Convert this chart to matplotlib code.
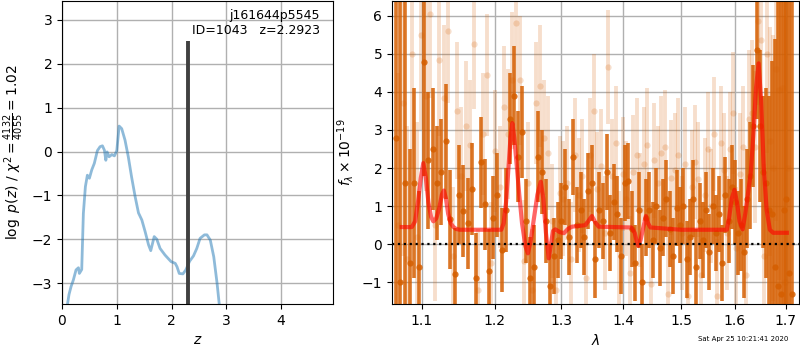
import numpy as np
import matplotlib
matplotlib.use("Agg")
import matplotlib.pyplot as plt
from matplotlib.ticker import FixedLocator, NullLocator, FormatStrFormatter

# --- p(z) curve -------------------------------------------------------------
PZ_Z = [0.10, 0.128, 0.165, 0.207, 0.256, 0.30, 0.317, 0.36, 0.39, 0.427,
        0.463, 0.50, 0.543, 0.59, 0.646, 0.695, 0.738, 0.774, 0.80, 0.823,
        0.86, 0.91, 0.957, 1.0, 1.043, 1.09, 1.15, 1.21, 1.27, 1.335,
        1.396, 1.457, 1.518, 1.58, 1.62, 1.683, 1.73, 1.79, 1.88, 1.99,
        2.067, 2.10, 2.14, 2.207, 2.26, 2.33, 2.40, 2.46, 2.52, 2.60,
        2.646, 2.707, 2.77, 2.83, 2.87]
PZ_LOG = [-3.48, -3.26, -3.08, -2.93, -2.70, -2.65, -2.78, -2.69, -1.41, -0.80,
          -0.54, -0.61, -0.42, -0.27, 0.02, 0.11, 0.13, 0.03, -0.20, -0.01,
          -0.12, -0.07, -0.10, 0.02, 0.58, 0.52, 0.26, -0.12, -0.58, -1.03,
          -1.40, -1.56, -1.83, -2.13, -2.26, -1.94, -2.00, -2.21, -2.36, -2.51,
          -2.55, -2.63, -2.78, -2.79, -2.70, -2.50, -2.38, -2.21, -1.98, -1.90,
          -1.90, -2.02, -2.40, -3.00, -3.48]
Z_BEST = 2.2923
Z_LINE_TOP = 2.52
OBJ_ROOT = "j161644p5545"
OBJ_ID = 1043

# --- spectrum, primary (dark) -------------------------------------------------
WAVE_A = [1.066, 1.072, 1.078, 1.084, 1.090, 1.096, 1.102, 1.108, 1.114, 1.120,
          1.126, 1.132, 1.138, 1.144, 1.150, 1.156, 1.162, 1.168, 1.174, 1.180,
          1.186, 1.192, 1.198, 1.204, 1.210, 1.216, 1.222, 1.228, 1.234, 1.240,
          1.246, 1.252, 1.258, 1.264, 1.270, 1.276, 1.282, 1.288, 1.294, 1.300,
          1.306, 1.312, 1.318, 1.324, 1.330, 1.336, 1.342, 1.348, 1.354, 1.360,
          1.366, 1.372, 1.378, 1.384, 1.390, 1.396, 1.402, 1.408, 1.414, 1.420,
          1.426, 1.432, 1.438, 1.444, 1.450, 1.456, 1.462, 1.468, 1.474, 1.480,
          1.486, 1.492, 1.498, 1.504, 1.510, 1.516, 1.522, 1.528, 1.534, 1.540,
          1.546, 1.552, 1.558, 1.564, 1.570, 1.576, 1.582, 1.588, 1.594, 1.600,
          1.606, 1.612, 1.618, 1.624, 1.630, 1.636, 1.642, 1.648, 1.654, 1.660,
          1.666, 1.672, 1.678, 1.684, 1.690, 1.696, 1.702, 1.708, 1.714]
FLUX_A = [2.8, -1.0, 1.6, -0.5, 1.6, -0.6, 4.78, 2.2, 2.5, 1.6,
          1.9, 2.7, 0.65, -0.78, 1.3, 0.87, 0.55, 1.45, -0.9, 2.15,
          1.05, -0.7, 0.7, 1.3, -0.15, 0.9, 3.3, 3.9, 2.3, 2.95,
          0.6, -0.9, -0.6, 2.3, 1.9, 0.6, -1.1, -0.3, 0.1, 0.6,
          1.5, 0.2, 2.3, 0.5, 0.9, 0.2, 1.4, 1.6, -0.4, 0.9,
          0.6, 1.9, 0.3, 1.1, 0.8, -0.3, 1.6, 1.65, 0.4, -0.5,
          0.9, -1.0, 0.7, 0.9, 0.1, 1.0, -0.1, 0.7, 1.2, 0.4,
          -0.3, 0.95, 0.5, 1.0, -0.4, 0.2, 1.2, -0.6, 0.6, 0.1,
          0.9, -0.2, 1.0, 0.3, 0.8, -0.5, 1.3, 0.6, 1.5, 1.1,
          0.3, 0.5, -0.2, 1.2, 1.8, 3.1, 5.1, 3.1, 1.9, 1.6,
          0.9, 0.8, -0.6, -1.1, -1.3, 0.9, 1.2, -0.75, -1.3]
ERR_A = [9.0, 9.0, 6.0, 3.0, 2.5, 2.0, 3.0, 1.8, 1.6, 1.5,
         1.4, 1.5, 1.3, 1.2, 1.3, 1.2, 1.2, 1.2, 1.2, 1.2,
         1.2, 1.1, 1.1, 1.1, 1.1, 1.1, 1.2, 1.3, 1.2, 1.2,
         1.1, 1.1, 1.1, 1.2, 1.1, 1.1, 1.1, 1.0, 1.0, 1.0,
         1.0, 1.0, 1.0, 1.0, 1.0, 1.0, 1.0, 1.0, 1.0, 1.0,
         1.0, 1.0, 1.0, 1.0, 1.0, 1.0, 1.0, 1.0, 1.0, 1.0,
         1.0, 1.0, 1.0, 1.0, 1.0, 1.0, 1.0, 1.0, 1.0, 1.0,
         1.0, 1.0, 1.0, 1.0, 1.0, 1.0, 1.0, 1.0, 1.0, 1.0,
         1.0, 1.0, 1.0, 1.0, 1.0, 1.0, 1.0, 1.1, 1.1, 1.1,
         1.1, 1.2, 1.2, 1.3, 1.4, 1.6, 1.8, 2.0, 2.0, 2.5,
         3.0, 4.0, 6.0, 8.0, 8.0, 9.0, 9.0, 9.0, 9.0]

# --- spectrum, second orient (light) -----------------------------------------
WAVE_B = [1.069, 1.075, 1.081, 1.087, 1.093, 1.099, 1.105, 1.111, 1.117, 1.123,
          1.129, 1.135, 1.141, 1.147, 1.153, 1.159, 1.165, 1.171, 1.177, 1.183,
          1.189, 1.195, 1.201, 1.207, 1.213, 1.219, 1.225, 1.231, 1.237, 1.243,
          1.249, 1.255, 1.261, 1.267, 1.273, 1.279, 1.285, 1.291, 1.297, 1.303,
          1.309, 1.315, 1.321, 1.327, 1.333, 1.339, 1.345, 1.351, 1.357, 1.363,
          1.369, 1.375, 1.381, 1.387, 1.393, 1.399, 1.405, 1.411, 1.417, 1.423,
          1.429, 1.435, 1.441, 1.447, 1.453, 1.459, 1.465, 1.471, 1.477, 1.483,
          1.489, 1.495, 1.501, 1.507, 1.513, 1.519, 1.525, 1.531, 1.537, 1.543,
          1.549, 1.555, 1.561, 1.567, 1.573, 1.579, 1.585, 1.591, 1.597, 1.603,
          1.609, 1.615, 1.621, 1.627, 1.633, 1.639, 1.645, 1.651, 1.657, 1.663,
          1.669, 1.675, 1.681, 1.687, 1.693, 1.699, 1.705]
FLUX_B = [0.5, 3.7, -0.4, 5.0, 0.2, 5.5, 3.9, 6.05, 0.5, 4.85,
          3.85, 5.6, -0.3, 3.5, 1.8, 3.1, 2.6, 5.25, -1.2, 2.9,
          4.45, -0.5, 2.45, 1.5, 3.6, 2.9, 4.3, 5.8, 4.3, -0.45,
          1.6, -1.2, 3.7, 4.15, 2.8, 2.4, 0.6, -1.2, 1.35, 1.2,
          1.6, -0.4, 2.35, 1.3, 1.8, -0.9, 2.35, 3.5, 1.45, 2.05,
          0.3, 4.65, 1.8, 2.65, -0.1, 1.85, 1.2, -0.75, 1.9, 2.35,
          0.9, 2.1, 2.6, -1.05, 2.2, 1.6, 2.4, 2.55, -1.3, 1.75,
          1.95, 2.35, 0.3, 2.1, -1.35, 1.5, 2.15, 1.7, -0.8, 1.3,
          2.5, 1.0, 2.9, -1.35, 2.65, 1.95, 0.3, 2.5, 3.45, -0.1,
          1.85, 2.55, -0.8, 3.3, 3.45, 2.55, 5.85, 5.35, -0.3, 5.0,
          2.7, 2.0, 4.6, 4.05, 4.1, -1.0, 2.0]
ERR_B = [4.0, 4.0, 3.5, 3.0, 3.0, 2.5, 2.5, 2.2, 2.0, 2.0,
         1.9, 1.9, 1.8, 1.8, 1.8, 1.7, 1.7, 1.7, 1.6, 1.6,
         1.6, 1.6, 1.6, 1.6, 1.6, 1.7, 1.8, 1.8, 1.7, 1.6,
         1.6, 1.6, 1.6, 1.6, 1.5, 1.5, 1.5, 1.5, 1.5, 1.5,
         1.5, 1.5, 1.5, 1.5, 1.5, 1.5, 1.5, 1.5, 1.5, 1.5,
         1.5, 1.5, 1.5, 1.5, 1.5, 1.5, 1.5, 1.5, 1.5, 1.5,
         1.5, 1.5, 1.5, 1.5, 1.5, 1.5, 1.5, 1.5, 1.5, 1.5,
         1.5, 1.5, 1.5, 1.5, 1.5, 1.5, 1.5, 1.5, 1.5, 1.5,
         1.5, 1.5, 1.5, 1.5, 1.5, 1.5, 1.5, 1.5, 1.6, 1.6,
         1.6, 1.6, 1.7, 1.8, 1.9, 2.0, 2.2, 2.3, 2.4, 2.6,
         3.0, 3.5, 4.0, 5.0, 6.0, 7.0, 8.0]

# --- best-fit model ----------------------------------------------------------
MODEL_WAVE = [1.0736, 1.0866, 1.0910, 1.0950, 1.0985, 1.1017, 1.1050, 1.1085,
              1.1120, 1.1150, 1.1190, 1.1230, 1.1265, 1.1292, 1.1320, 1.1350,
              1.1385, 1.1418, 1.1460, 1.1509, 1.2096, 1.2130, 1.2165, 1.2200,
              1.2230, 1.2257, 1.2285, 1.2320, 1.2359, 1.2400, 1.2450, 1.2488,
              1.2530, 1.2580, 1.2630, 1.2682, 1.2720, 1.2760, 1.2803, 1.2840,
              1.2870, 1.2905, 1.2970, 1.3038, 1.3100, 1.3163, 1.3376, 1.3430,
              1.3483, 1.3535, 1.3592, 1.4133, 1.4191, 1.4225, 1.4250, 1.4290,
              1.4340, 1.4382, 1.4420, 1.4460, 1.5000, 1.5847, 1.5890, 1.5940,
              1.5992, 1.6040, 1.6090, 1.6149, 1.6200, 1.6250, 1.6306, 1.6360,
              1.6410, 1.6461, 1.6510, 1.6562, 1.6620, 1.6684, 1.6750, 1.7027]
MODEL_FLUX = [0.45, 0.45, 0.60, 1.15, 1.75, 2.13, 1.75, 1.10,
              0.72, 0.60, 0.68, 0.95, 1.30, 1.41, 1.20, 0.80,
              0.55, 0.46, 0.40, 0.38, 0.38, 0.55, 1.10, 2.00,
              2.80, 3.18, 2.80, 2.10, 1.30, 0.55, -0.05, -0.24,
              0.10, 0.70, 1.30, 1.64, 1.20, 0.30, -0.37, 0.05,
              0.35, 0.39, 0.32, 0.29, 0.40, 0.46, 0.50, 0.62,
              0.74, 0.58, 0.46, 0.44, 0.30, 0.08, -0.04, 0.10,
              0.45, 0.74, 0.55, 0.44, 0.38, 0.38, 0.70, 1.20,
              1.43, 1.10, 0.60, 0.39, 0.80, 1.30, 1.86, 2.90,
              4.10, 4.75, 3.80, 2.04, 0.90, 0.38, 0.30, 0.30]

TIMESTAMP = "Sat Apr 25 10:21:41 2020"
G141_COLOR = (0.8352941176470589, 0.3686274509803922, 0.0)


def _plot_pz(ax):
    ax.plot(PZ_Z, PZ_LOG, color="tab:blue", alpha=0.5, lw=2)
    ax.vlines(Z_BEST, -3.48, Z_LINE_TOP, color="0.25", lw=2.8)
    ax.text(0.95, 0.975, f"{OBJ_ROOT}\nID={OBJ_ID}   z={Z_BEST:.4f}",
            transform=ax.transAxes, ha="right", va="top", fontsize=9,
            linespacing=1.2)
    ax.set_xlim(0, 4.95)
    ax.set_ylim(-3.48, 3.43)
    ax.set_xticks([0, 1, 2, 3, 4])
    ax.set_yticks([-3, -2, -1, 0, 1, 2, 3])
    ax.set_xlabel(r"$z$")
    ax.set_ylabel(r"$\log\ p(z)$ / $\chi^2=\frac{4132}{4055}=1.02$")
    ax.grid(True, color="#b0b0b0", lw=1)
    ax.set_axisbelow(True)


def _plot_spec(ax):
    ax.errorbar(WAVE_B, FLUX_B, yerr=ERR_B, fmt="o", color=G141_COLOR,
                alpha=0.2, ms=4.5, elinewidth=2.8, mew=0)
    ax.errorbar(WAVE_A, FLUX_A, yerr=ERR_A, fmt="o", color=G141_COLOR,
                alpha=0.85, ms=4.5, elinewidth=2.6, mew=0)
    ax.plot(MODEL_WAVE, MODEL_FLUX, color="r", alpha=0.6, lw=3, zorder=5)
    ax.axhline(0, color="k", ls=":", lw=1.6, zorder=6)

    ax.set_xscale("log")
    ax.set_xlim(1.0612, 1.7281)
    ax.set_ylim(-1.574, 6.386)
    ax.xaxis.set_major_locator(FixedLocator([1.1, 1.2, 1.3, 1.4, 1.5, 1.6, 1.7]))
    ax.xaxis.set_major_formatter(FormatStrFormatter("%.1f"))
    ax.xaxis.set_minor_locator(NullLocator())
    ax.set_yticks([-1, 0, 1, 2, 3, 4, 5, 6])
    ax.set_xlabel(r"$\lambda$")
    ax.set_ylabel(r"$f_\lambda\times10^{-19}$")
    ax.grid(True, color="#b0b0b0", lw=1)
    ax.set_axisbelow(True)


fig = plt.figure(figsize=(8, 3.5), dpi=100)
ax_pz = fig.add_axes([0.0775, 0.131, 0.339, 0.866])
ax_sp = fig.add_axes([0.49, 0.131, 0.509, 0.866])

_plot_pz(ax_pz)
_plot_spec(ax_sp)

fig.text(0.985, 0.031, TIMESTAMP, ha="right", va="center", fontsize=5)

fig.savefig("out.png", dpi=100)
plt.close(fig)
